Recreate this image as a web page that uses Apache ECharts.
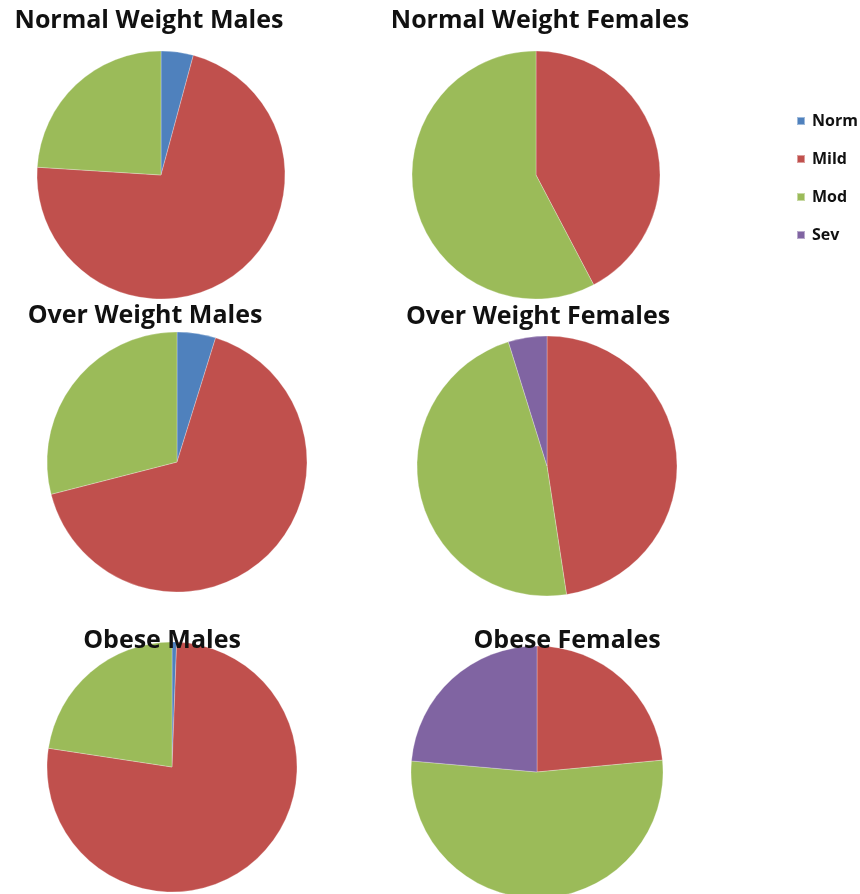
<!DOCTYPE html>
<html>
<head>
<meta charset="utf-8">
<script src="https://cdn.jsdelivr.net/npm/echarts@6/dist/echarts.min.js"></script>
<style>
  html, body { margin: 0; padding: 0; background: #fff; }
  #chart { width: 860px; height: 894px; }
</style>
</head>
<body>
<div id="chart"></div>
<script>
// Severity categories shared by all six pies
const categories = ['Norm', 'Mild', 'Mod', 'Sev'];
const colors = ['#4F81BD', '#C0504D', '#9BBB59', '#8064A2'];

// Group titles
const groupTitles = [
  'Normal Weight Males', 'Normal Weight Females',
  'Over Weight Males', 'Over Weight Females',
  'Obese Males', 'Obese Females'
];

// Percent share per category (Norm, Mild, Mod, Sev)
const normalMales     = [4.2, 71.8, 24.0, 0];
const normalFemales   = [0, 42.3, 57.7, 0];
const overMales       = [4.8, 66.2, 29.0, 0];
const overFemales     = [0, 47.6, 47.6, 4.8];
const obeseMales      = [0.6, 76.8, 22.6, 0];
const obeseFemales    = [0, 23.5, 52.9, 23.6];

const groupValues = [normalMales, normalFemales, overMales, overFemales, obeseMales, obeseFemales];

// Layout: pie centre, radius, title anchor
const pieLayout = [
  { center: [161, 175], r: 124, title: [149, 21] },
  { center: [536, 175], r: 124, title: [540, 21] },
  { center: [177, 462], r: 130, title: [145, 316] },
  { center: [547, 466], r: 130, title: [538, 317] },
  { center: [172, 767], r: 125, title: [162, 641] },
  { center: [537, 772], r: 126, title: [567, 641] }
];

const series = groupValues.map((vals, i) => ({
  type: 'pie',
  name: groupTitles[i],
  center: pieLayout[i].center,
  radius: [0, pieLayout[i].r],
  startAngle: 90,
  clockwise: true,
  silent: true,
  label: { show: false },
  labelLine: { show: false },
  itemStyle: { borderColor: 'rgba(255,255,255,0.45)', borderWidth: 0.6 },
  emphasis: { disabled: true },
  animation: false,
  data: categories
    .map((c, k) => ({ name: c, value: vals[k], itemStyle: { color: colors[k] } }))
    .filter(d => d.value > 0)
}));

const titleTexts = groupTitles.map((t, i) => ({
  type: 'text',
  x: pieLayout[i].title[0],
  y: pieLayout[i].title[1],
  z: 10,
  style: {
    text: t,
    align: 'center',
    verticalAlign: 'middle',
    fontFamily: '"Open Sans", sans-serif',
    fontWeight: 'bold',
    fontSize: 25,
    fill: '#111'
  }
}));

const chart = echarts.init(document.getElementById('chart'), null, { renderer: 'canvas' });
chart.setOption({
  backgroundColor: '#ffffff',
  animation: false,
  color: colors,
  legend: {
    data: categories.map((c, k) => ({ name: c, itemStyle: { color: colors[k] } })),
    orient: 'vertical',
    left: 796,
    top: 113,
    icon: 'rect',
    itemWidth: 8,
    itemHeight: 8,
    itemGap: 22,
    padding: 0,
    selectedMode: false,
    textStyle: {
      fontFamily: '"Open Sans", sans-serif',
      fontWeight: 'bold',
      fontSize: 16,
      color: '#111',
      padding: [0, 0, 0, 2]
    }
  },
  graphic: titleTexts,
  series: series
});
</script>
</body>
</html>
